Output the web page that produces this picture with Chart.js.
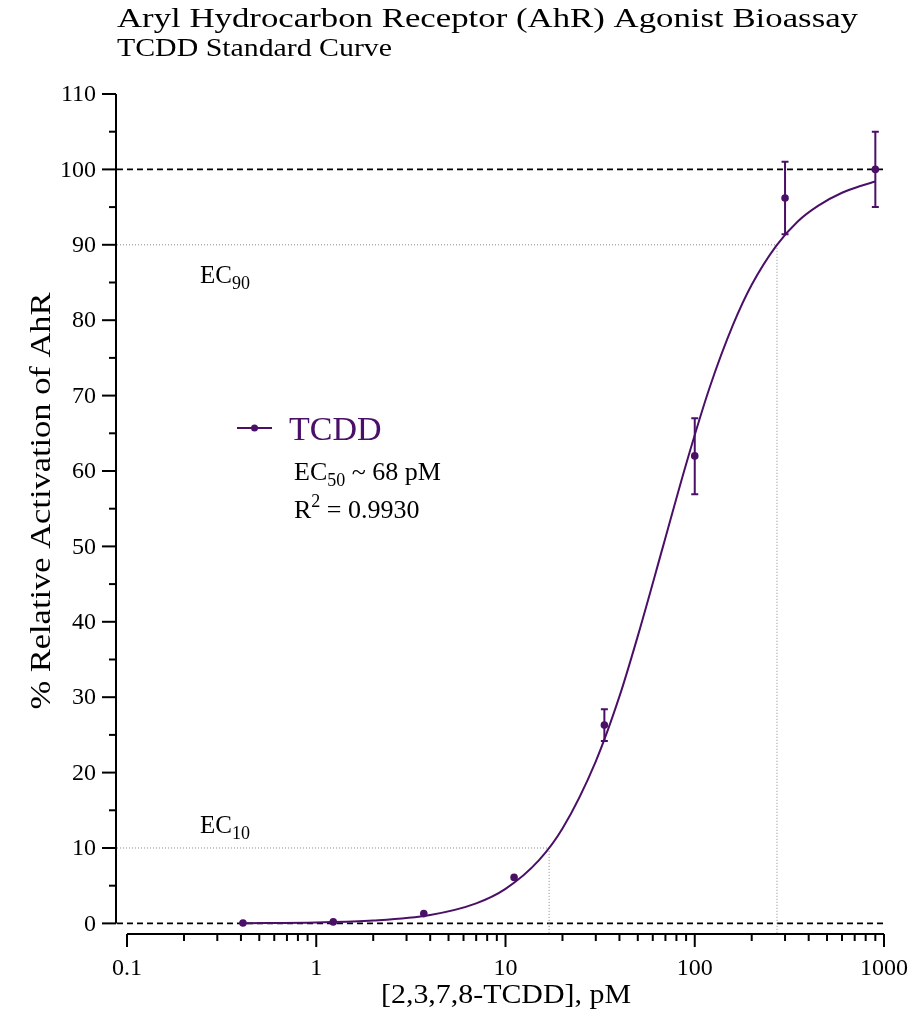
<!DOCTYPE html>
<html><head><meta charset="utf-8">
<script src="https://cdn.jsdelivr.net/npm/chart.js@4.4.1/dist/chart.umd.min.js"></script>
<style>html,body{margin:0;padding:0;background:#fff}canvas{display:block}</style>
</head><body>
<canvas id="c" width="913" height="1025"></canvas>
<script>
// ---- data ----
const concentrations = [0.41, 1.23, 3.7, 11.1, 33.3, 100, 300, 900];          // pM
const activation     = [0.05, 0.2, 1.3, 6.1, 26.3, 62.0, 96.2, 100.0];         // %
const errLow         = [null, null, null, null, 24.2, 56.9, 91.4, 95.0];
const errHigh        = [null, null, null, null, 28.4, 67.0, 101.0, 105.0];
const fitX = [0.41, 1, 2, 4, 7, 10, 15, 20, 30, 40, 50, 68, 90, 120, 160, 200, 270, 350, 450, 600, 750, 900];
const fitY = [0.03, 0.12, 0.37, 1.11, 2.65, 4.57, 8.35, 12.57, 21.5, 30.1, 38.1, 50.0, 60.9, 71.1, 79.5, 84.7, 89.9, 93.1, 95.2, 96.9, 97.8, 98.4];
const xTicks = [0.1, 1, 10, 100, 1000];
const xTickLabels = ['0.1', '1', '10', '100', '1000'];
const yTicks = [0, 10, 20, 30, 40, 50, 60, 70, 80, 90, 100, 110];
const yMinorTicks = [5, 15, 25, 35, 45, 55, 65, 75, 85, 95, 105];
const ec10 = 17, ec90 = 272;   // pM
const titleText = 'Aryl Hydrocarbon Receptor (AhR) Agonist Bioassay';
const subtitleText = 'TCDD Standard Curve';
const xTitle = '[2,3,7,8-TCDD], pM';
const yTitle = '% Relative Activation of AhR';
const seriesName = 'TCDD';

const PURPLE = '#4a1068';
const SERIF = '"Liberation Serif", "DejaVu Serif", serif';

const xMinor = [];
for (let d = 0.1; d < 1000; d *= 10) for (let k = 2; k <= 9; k++) xMinor.push(+(k * d).toPrecision(3));

function fitText(ctx, text, x, y, font, target, align) {
  ctx.save();
  ctx.font = font;
  const w = ctx.measureText(text).width;
  ctx.translate(x, y);
  ctx.scale(target / w, 1);
  ctx.textAlign = align;
  ctx.fillText(text, 0, 0);
  ctx.restore();
}

function subText(ctx, x, y, main, sub, after, size, subSize) {
  ctx.textAlign = 'left';
  ctx.font = size + 'px ' + SERIF;
  ctx.fillText(main, x, y);
  let w = ctx.measureText(main).width;
  ctx.font = subSize + 'px ' + SERIF;
  ctx.fillText(sub, x + w, y + 6);
  w += ctx.measureText(sub).width;
  if (after) { ctx.font = size + 'px ' + SERIF; ctx.fillText(after, x + w, y); }
}

const deco = {
  id: 'deco',
  beforeDatasetsDraw(chart) {
    const {ctx, scales: {x, y}, chartArea: ca} = chart;
    ctx.save();
    // dashed 0 and 100 lines
    ctx.strokeStyle = '#000'; ctx.lineWidth = 1.6; ctx.setLineDash([6, 4]);
    [0, 100].forEach(v => {
      ctx.beginPath(); ctx.moveTo(ca.left + 2, y.getPixelForValue(v)); ctx.lineTo(x.getPixelForValue(1000), y.getPixelForValue(v)); ctx.stroke();
    });
    // dotted EC guides
    ctx.strokeStyle = '#8a8a8a'; ctx.lineWidth = 1; ctx.setLineDash([1, 2]);
    [[ec10, 10], [ec90, 90]].forEach(([cx, v]) => {
      const px = x.getPixelForValue(cx), py = y.getPixelForValue(v);
      ctx.beginPath(); ctx.moveTo(ca.left + 2, py); ctx.lineTo(px, py); ctx.lineTo(px, ca.bottom - 1); ctx.stroke();
    });
    ctx.setLineDash([]);
    // error bars
    ctx.strokeStyle = PURPLE; ctx.lineWidth = 2;
    concentrations.forEach((c, i) => {
      if (errLow[i] == null) return;
      const px = x.getPixelForValue(c), lo = y.getPixelForValue(errLow[i]), hi = y.getPixelForValue(errHigh[i]);
      ctx.beginPath();
      ctx.moveTo(px, lo); ctx.lineTo(px, hi);
      ctx.moveTo(px - 3.5, lo); ctx.lineTo(px + 3.5, lo);
      ctx.moveTo(px - 3.5, hi); ctx.lineTo(px + 3.5, hi);
      ctx.stroke();
    });
    ctx.restore();
  },
  afterDraw(chart) {
    const {ctx, scales: {x, y}, chartArea: ca} = chart;
    ctx.save();
    ctx.strokeStyle = '#000'; ctx.fillStyle = '#000'; ctx.lineWidth = 2;
    // y axis
    const ax = ca.left + 1;
    ctx.beginPath(); ctx.moveTo(ax, y.getPixelForValue(110)); ctx.lineTo(ax, y.getPixelForValue(0)); ctx.stroke();
    yTicks.forEach(v => { const py = y.getPixelForValue(v); ctx.beginPath(); ctx.moveTo(ax - 14, py); ctx.lineTo(ax, py); ctx.stroke(); });
    yMinorTicks.forEach(v => { const py = y.getPixelForValue(v); ctx.beginPath(); ctx.moveTo(ax - 7, py); ctx.lineTo(ax, py); ctx.stroke(); });
    ctx.font = '24px ' + SERIF; ctx.textAlign = 'right'; ctx.textBaseline = 'middle';
    yTicks.forEach(v => ctx.fillText(String(v), ax - 20, y.getPixelForValue(v) + 1));
    // x axis
    const ay = ca.bottom - 1;
    ctx.beginPath(); ctx.moveTo(x.getPixelForValue(0.1), ay); ctx.lineTo(x.getPixelForValue(1000), ay); ctx.stroke();
    xTicks.forEach(v => { const px = x.getPixelForValue(v); ctx.beginPath(); ctx.moveTo(px, ay); ctx.lineTo(px, ay + 13); ctx.stroke(); });
    xMinor.forEach(v => { const px = x.getPixelForValue(v); ctx.beginPath(); ctx.moveTo(px, ay); ctx.lineTo(px, ay + 7); ctx.stroke(); });
    ctx.textAlign = 'center'; ctx.textBaseline = 'alphabetic';
    xTicks.forEach((v, i) => ctx.fillText(xTickLabels[i], x.getPixelForValue(v), 975));
    // axis titles
    fitText(ctx, xTitle, 506, 1003, '27px ' + SERIF, 250, 'center');
    ctx.save();
    ctx.translate(50, 501); ctx.rotate(-Math.PI / 2);
    fitText(ctx, yTitle, 0, 0, '30px ' + SERIF, 417, 'center');
    ctx.restore();
    // titles
    fitText(ctx, titleText, 117, 27, '27px ' + SERIF, 741, 'left');
    fitText(ctx, subtitleText, 117, 56, '25px ' + SERIF, 275, 'left');
    // EC labels
    subText(ctx, 200, 283, 'EC', '90', null, 25, 18);
    subText(ctx, 200, 833, 'EC', '10', null, 25, 18);
    // legend
    ctx.strokeStyle = PURPLE; ctx.fillStyle = PURPLE; ctx.lineWidth = 2;
    ctx.beginPath(); ctx.moveTo(237, 428); ctx.lineTo(272, 428); ctx.stroke();
    ctx.beginPath(); ctx.arc(254.5, 428, 3.5, 0, Math.PI * 2); ctx.fill();
    ctx.textAlign = 'left';
    ctx.font = '34px ' + SERIF; ctx.fillText(seriesName, 289, 440);
    ctx.fillStyle = '#000';
    subText(ctx, 294, 480, 'EC', '50', ' ~ 68 pM', 26, 18);
    ctx.font = '26px ' + SERIF; ctx.fillText('R', 294, 518);
    let w = ctx.measureText('R').width;
    ctx.font = '18px ' + SERIF; ctx.fillText('2', 294 + w, 507);
    w += ctx.measureText('2').width;
    ctx.font = '26px ' + SERIF; ctx.fillText(' = 0.9930', 294 + w, 518);
    ctx.restore();
  }
};

new Chart(document.getElementById('c'), {
  type: 'scatter',
  data: {
    datasets: [
      {
        type: 'line', label: 'fit',
        data: fitX.map((v, i) => ({x: v, y: fitY[i]})),
        borderColor: PURPLE, borderWidth: 2, pointRadius: 0,
        cubicInterpolationMode: 'monotone', fill: false, order: 2
      },
      {
        label: seriesName,
        data: concentrations.map((v, i) => ({x: v, y: activation[i]})),
        backgroundColor: PURPLE, borderColor: PURPLE, pointRadius: 3.8, borderWidth: 0,
        clip: false, order: 1
      }
    ]
  },
  options: {
    responsive: false, animation: false, devicePixelRatio: 1,
    layout: {padding: {left: 115, right: 29, top: 94, bottom: 90}},
    plugins: {legend: {display: false}, tooltip: {enabled: false}, title: {display: false}},
    scales: {
      x: {type: 'logarithmic', min: 0.08641, max: 1000, display: false},
      y: {type: 'linear', min: -1.54, max: 110, display: false}
    }
  },
  plugins: [deco]
});
</script>
</body></html>
